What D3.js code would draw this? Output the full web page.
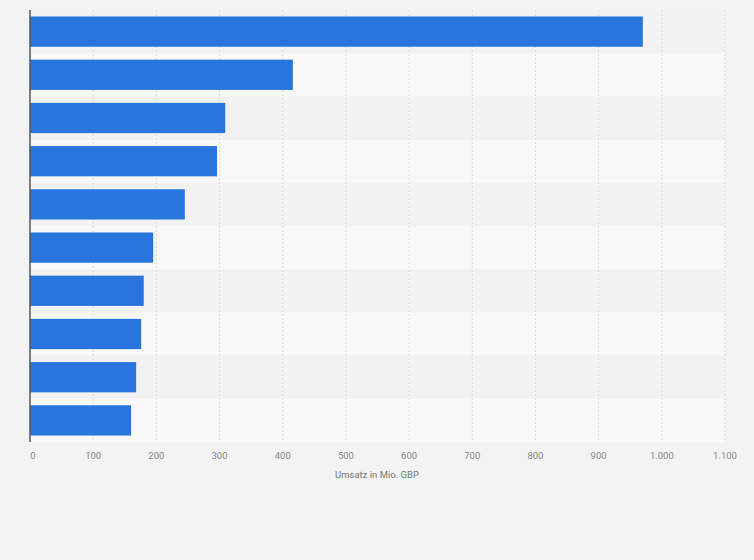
<!DOCTYPE html><html><head><meta charset="utf-8"><script src="https://cdn.jsdelivr.net/npm/d3@7"></script>
<style>body{margin:0;background:#f3f3f3;font-family:Roboto,Arial,sans-serif}</style></head><body><svg id="c" width="754" height="560"></svg><script>
const categories=["1","2","3","4","5","6","7","8","9","10"];
const values=[970,416,309,296,245,195,180,176,168,160];
const ticks=[0,100,200,300,400,500,600,700,800,900,1000,1100];
const tickLabels=["0","100","200","300","400","500","600","700","800","900","1.000","1.100"];
const svg=d3.select("#c");
const x=d3.scaleLinear().domain([0,1100]).range([30,725]);
const y=d3.scaleBand().domain(categories).range([10,442]).paddingInner(0.3).paddingOuter(0.15);
const row=d3.scaleBand().domain(categories).range([10,442]);
svg.selectAll(".row").data(categories).join("rect").attr("x",30).attr("width",695).attr("y",d=>row(d)).attr("height",row.bandwidth()).attr("fill",(d,i)=>i%2?"#f8f8f8":"#f2f2f2");
svg.selectAll(".g").data(ticks.slice(1)).join("line").attr("x1",d=>x(d)).attr("x2",d=>x(d)).attr("y1",10).attr("y2",442).attr("stroke","#dcdcdc").attr("stroke-dasharray","2,2");
svg.selectAll(".bar").data(values).join("rect").attr("x",x(0)).attr("y",(d,i)=>y(categories[i])).attr("width",d=>x(d)-x(0)).attr("height",y.bandwidth()).attr("fill","#2876dd");
svg.append("line").attr("x1",30).attr("x2",30).attr("y1",10).attr("y2",442).attr("stroke","#555").attr("stroke-width",1.5);
svg.selectAll(".t").data(ticks).join("text").attr("x",(d,i)=>x(d)+(i==0?3:0)).attr("y",459).attr("text-anchor","middle").attr("font-size",9.5).attr("fill","#888").text((d,i)=>tickLabels[i]);
svg.append("text").attr("x",377).attr("y",478).attr("text-anchor","middle").attr("font-size",9.5).attr("fill","#777").text("Umsatz in Mio. GBP");
</script></body></html>
